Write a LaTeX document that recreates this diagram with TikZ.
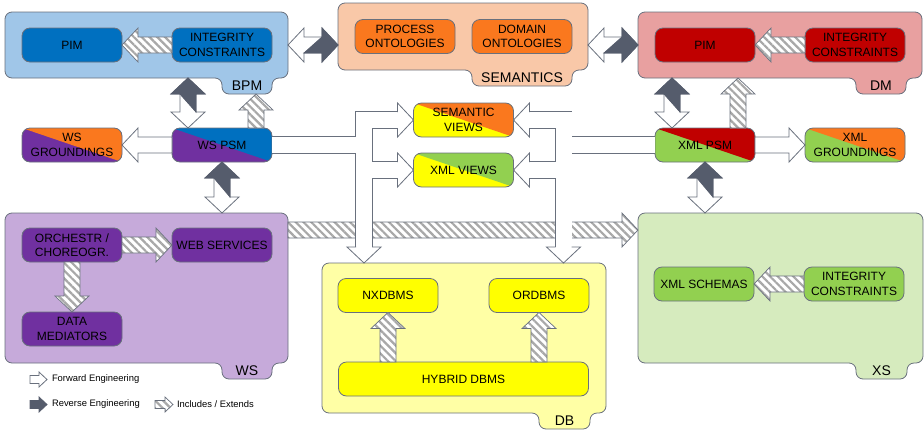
\documentclass[tikz,border=0pt]{standalone}
\usepackage{fontspec}
\setmainfont{Liberation Sans}
\usetikzlibrary{positioning,calc,patterns.meta}

\definecolor{lineg}{RGB}{105,112,125}
\definecolor{darkg}{RGB}{85,92,108}
\definecolor{hatchg}{RGB}{168,168,168}
\definecolor{bpmbg}{RGB}{160,198,232}
\definecolor{bpmfg}{RGB}{0,112,192}
\definecolor{sembg}{RGB}{249,200,168}
\definecolor{semfg}{RGB}{250,120,30}
\definecolor{dmbg}{RGB}{232,160,160}
\definecolor{dmfg}{RGB}{192,0,0}
\definecolor{wsbg}{RGB}{198,170,218}
\definecolor{wsfg}{RGB}{112,48,160}
\definecolor{dbbg}{RGB}{255,255,165}
\definecolor{dbfg}{RGB}{255,255,0}
\definecolor{xsbg}{RGB}{214,235,190}
\definecolor{xsfg}{RGB}{146,208,80}

\newcommand{\compfont}{\fontsize{12}{14.5}\selectfont}
\newcommand{\grpfont}{\fontsize{14}{16}\selectfont}
\newcommand{\legfont}{\fontsize{9.4}{11}\selectfont}

% arrow sizes: half shaft, half head, head length
\newcommand{\arrsh}{8}
\newcommand{\arrhd}{17}
\newcommand{\arrlen}{16}

% block arrow from tail #2 to tip #3
\newcommand{\blockarrow}[3]{%
  \coordinate (ba-t) at (#2);
  \coordinate (ba-h) at (#3);
  \coordinate (ba-b) at ($(ba-h)!\arrlen pt!(ba-t)$);
  \draw[#1] ($(ba-t)!\arrsh pt!90:(ba-h)$) -- ($(ba-b)!\arrsh pt!90:(ba-h)$)
    -- ($(ba-b)!\arrhd pt!90:(ba-h)$) -- (ba-h)
    -- ($(ba-b)!\arrhd pt!-90:(ba-h)$) -- ($(ba-b)!\arrsh pt!-90:(ba-h)$)
    -- ($(ba-t)!\arrsh pt!-90:(ba-h)$) -- cycle;
}

% forward (white tip #1) / reverse (dark tip #2)
\newcommand{\fwdrev}[2]{%
  \coordinate (fr-a) at (#1);
  \coordinate (fr-b) at (#2);
  \coordinate (fr-ab) at ($(fr-a)!\arrlen pt!(fr-b)$);
  \coordinate (fr-bb) at ($(fr-b)!\arrlen pt!(fr-a)$);
  \draw[fwdarr] (fr-a) -- ($(fr-ab)!\arrhd pt!90:(fr-b)$) -- ($(fr-ab)!\arrsh pt!90:(fr-b)$)
    -- ($(fr-bb)!\arrsh pt!90:(fr-b)$) -- ($(fr-bb)!\arrhd pt!90:(fr-b)$) -- (fr-b)
    -- ($(fr-bb)!\arrhd pt!-90:(fr-b)$) -- ($(fr-bb)!\arrsh pt!-90:(fr-b)$)
    -- ($(fr-ab)!\arrsh pt!-90:(fr-b)$) -- ($(fr-ab)!\arrhd pt!-90:(fr-b)$) -- cycle;
  \draw[revarr] (fr-b) -- ($(fr-bb)!\arrhd pt!90:(fr-b)$) -- ($(fr-bb)!\arrsh pt!90:(fr-b)$)
    -- ($(fr-ab)!\arrsh pt!-90:(fr-b)$) -- ($(fr-bb)!\arrsh pt!-90:(fr-b)$)
    -- ($(fr-bb)!\arrhd pt!-90:(fr-b)$) -- cycle;
}

% group box with tab at the bottom right
\newcommand{\grpshape}[4]{%
  \draw[grpline,fill=#2] (#1.north west) -- (#1.north east) -- (#1.south east)
    -- ([xshift=-16pt]#1.south east) -- ++(0,16) -- ++(-#4,0) -- ++(0,-16)
    -- (#1.south west) -- cycle;
  \node[grplabel,minimum width=#4pt] (#1lab) at ($(#1.south east)+(-16-#4/2,8)$) {#3};
}

\begin{document}
\begin{tikzpicture}[x=1pt,y=-1pt,every node/.style={outer sep=0pt},
 comp/.style={draw=lineg,line width=0.8pt,rounded corners=8pt,minimum width=100pt,
   minimum height=34pt,align=center,inner sep=1pt,font=\compfont},
 diag/.style 2 args={fill=#1,path picture={\fill[#2,sharp corners]
   (path picture bounding box.north west) -- (path picture bounding box.north east)
   -- (path picture bounding box.south east) -- cycle;}},
 grpbox/.style={inner sep=0pt},
 grpline/.style={draw=lineg,line width=0.8pt,rounded corners=7pt},
 grplabel/.style={inner sep=0pt,minimum height=16pt,font=\grpfont},
 legtext/.style={inner sep=0pt,anchor=west,font=\legfont},
 incl/.style={draw=lineg,line width=0.7pt,line join=miter,preaction={fill=white},
   pattern={Lines[angle=-45,distance=5.5pt,line width=2.2pt]},pattern color=hatchg},
 fwdarr/.style={draw=lineg,line width=0.8pt,line join=miter,fill=white},
 revarr/.style={draw=darkg,line width=0.8pt,line join=miter,fill=darkg},
 fwdband/.style={draw=lineg,line width=0.8pt,double=white,double distance=16pt,line join=miter},
 fwdhead/.pic={\filldraw[fwdarr] (-16,-8) -- (-16,-17) -- (0,0) -- (-16,17) -- (-16,8);}]

 \useasboundingbox (0,0) rectangle (924,432);

 % groups
 \node[grpbox,minimum width=283pt,minimum height=66pt] (bpm) at (146.5,45) {};
 \grpshape{bpm}{bpmbg}{BPM}{50}
 \node[grpbox,minimum width=250pt,minimum height=67pt] (sem) at (463,36.5) {};
 \grpshape{sem}{sembg}{SEMANTICS}{100}
 \node[grpbox,minimum width=284pt,minimum height=66pt] (dm) at (780,45) {};
 \grpshape{dm}{dmbg}{DM}{50}
 \node[grpbox,minimum width=283pt,minimum height=150pt] (ws) at (146.5,288) {};
 \grpshape{ws}{wsbg}{WS}{50}
 \node[grpbox,minimum width=284pt,minimum height=150pt] (db) at (464,338) {};
 \grpshape{db}{dbbg}{DB}{51}
 \node[grpbox,minimum width=285pt,minimum height=150pt] (xs) at (780.5,288) {};
 \grpshape{xs}{xsbg}{XS}{51}

 % components
 \node[comp,fill=bpmfg] (pim1) at (72,45) {PIM};
 \node[comp,fill=bpmfg,right=50pt of pim1] (ic1) {INTEGRITY\\CONSTRAINTS};
 \node[comp,fill=semfg] (pro) at (405,36.5) {PROCESS\\ONTOLOGIES};
 \node[comp,fill=semfg,right=17pt of pro] (dom) {DOMAIN\\ONTOLOGIES};
 \node[comp,fill=dmfg] (pim2) at (705,45) {PIM};
 \node[comp,fill=dmfg,right=50pt of pim2] (ic2) {INTEGRITY\\CONSTRAINTS};

 \node[comp,diag={wsfg}{semfg}] (wsg) at (72,145) {WS\\GROUNDINGS};
 \node[comp,diag={wsfg}{bpmfg},right=50pt of wsg] (wspsm) {WS PSM};
 \node[comp,diag={dbfg}{semfg}] (sv) at (463.5,120) {SEMANTIC\\VIEWS};
 \node[comp,diag={dbfg}{xsfg},below=16pt of sv] (xv) {XML VIEWS};
 \node[comp,diag={xsfg}{dmfg}] (xpsm) at (705,145) {XML PSM};
 \node[comp,diag={xsfg}{semfg},right=50pt of xpsm] (xg) {XML\\GROUNDINGS};

 \node[comp,fill=wsfg] (orch) at (72,245) {ORCHESTR /\\CHOREOGR.};
 \node[comp,fill=wsfg,right=50pt of orch] (web) {WEB SERVICES};
 \node[comp,fill=wsfg,below=50pt of orch] (dmed) {DATA\\MEDIATORS};

 \node[comp,fill=dbfg] (nx) at (388,295.5) {NXDBMS};
 \node[comp,fill=dbfg,right=51pt of nx] (ord) {ORDBMS};
 \node[comp,fill=dbfg,minimum width=250pt] (hyb) at (463.5,379) {HYBRID DBMS};

 \node[comp,fill=xsfg] (xsch) at (704,284) {XML SCHEMAS};
 \node[comp,fill=xsfg,right=50pt of xsch] (ic3) {INTEGRITY\\CONSTRAINTS};

 % includes / extends
 \blockarrow{incl}{ic1.west}{pim1.east}
 \blockarrow{incl}{ic2.west}{pim2.east}
 \blockarrow{incl}{ic3.west}{xsch.east}
 \blockarrow{incl}{orch.east}{web.west}
 \blockarrow{incl}{orch.south}{dmed.north}
 \blockarrow{incl}{hyb.north -| nx.south}{nx.south}
 \blockarrow{incl}{hyb.north -| ord.south}{ord.south}
 \coordinate (bi) at ([xshift=34pt]wspsm.north);
 \blockarrow{incl}{bi}{bi |- bpmlab.south}
 \coordinate (di) at ([xshift=33pt]xpsm.north);
 \blockarrow{incl}{di}{di |- dm.south}
 \blockarrow{incl}{$(ws.north east)+(0,17)$}{$(xs.north west)+(0,17)$}

 % forward / reverse engineering
 \fwdrev{bpm.east}{sem.west |- bpm.east}
 \fwdrev{sem.east |- dm.west}{dm.west}
 \coordinate (bw) at ([xshift=-34pt]wspsm.north);
 \fwdrev{bw}{bw |- bpm.south}
 \fwdrev{wspsm.south |- ws.north}{wspsm.south}
 \coordinate (xd) at ([xshift=-33pt]xpsm.north);
 \fwdrev{xd}{xd |- dm.south}
 \fwdrev{xpsm.south |- xs.north}{xpsm.south}

 % forward engineering
 \blockarrow{fwdarr}{wspsm.west}{wsg.east}
 \blockarrow{fwdarr}{xpsm.east}{xg.west}

 \coordinate (lj) at (364,145);
 \coordinate (ldb) at (lj |- db.north);
 \draw[fwdband] (wspsm.east) -- (lj) |- ([xshift=-16pt]sv.west)
   (lj) |- ([xshift=-16pt]xv.west)
   (lj) -- ([yshift=16pt]ldb);
 \pic at (sv.west) {fwdhead};
 \pic at (xv.west) {fwdhead};
 \pic[rotate=-90] at (ldb) {fwdhead};

 \coordinate (rj) at (563.5,145);
 \coordinate (rdb) at (rj |- db.north);
 \draw[fwdband] (xpsm.west) -- (rj) |- ([xshift=16pt]sv.east)
   (rj) |- ([xshift=16pt]xv.east)
   (rj) -- ([yshift=16pt]rdb);
 \pic[rotate=180] at (sv.east) {fwdhead};
 \pic[rotate=180] at (xv.east) {fwdhead};
 \pic[rotate=-90] at (rdb) {fwdhead};

 % legend
 \node[legtext] (lfwd) at (52,379.5) {Forward Engineering};
 \node[legtext] (lrev) at (52,404.5) {Reverse Engineering};
 \node[legtext] (linc) at (177,404.5) {Includes / Extends};
 \begin{scope}
  \renewcommand{\arrsh}{4}\renewcommand{\arrhd}{7.5}\renewcommand{\arrlen}{8}
  \blockarrow{fwdarr}{$(lfwd.west)+(-22,0)$}{$(lfwd.west)+(-5,0)$}
  \blockarrow{revarr}{$(lrev.west)+(-22,0)$}{$(lrev.west)+(-5,0)$}
  \blockarrow{incl}{$(linc.west)+(-22,0)$}{$(linc.west)+(-4,0)$}
 \end{scope}

\end{tikzpicture}
\end{document}
